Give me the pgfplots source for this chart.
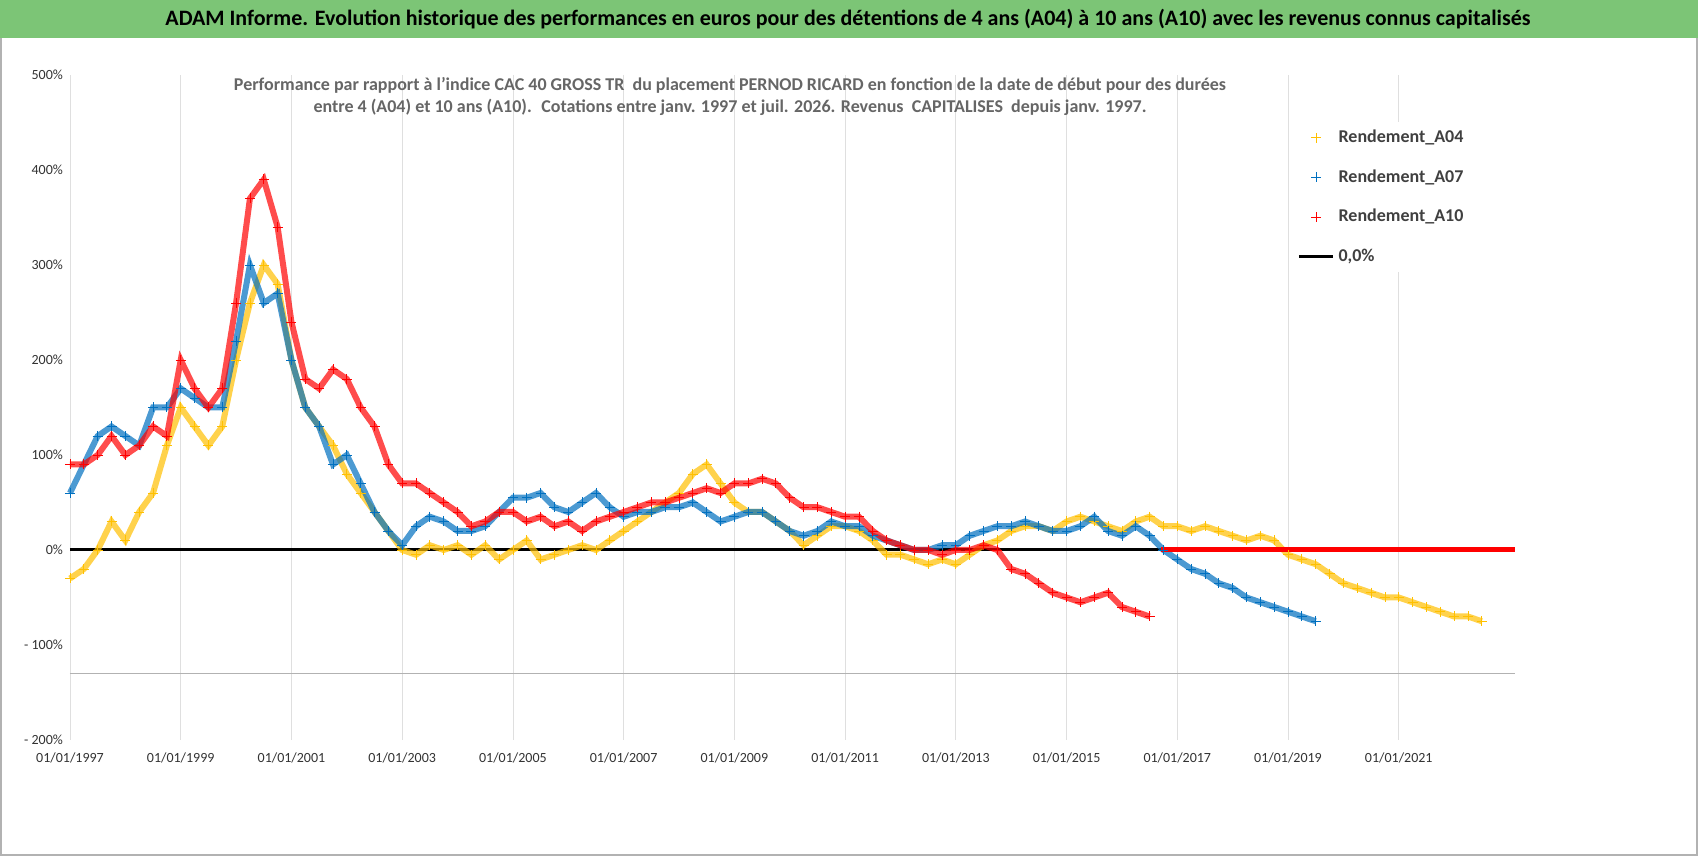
\documentclass[border=0pt]{standalone}
\usepackage{pgfplots}
\usepackage{pgfplotstable}
\pgfplotsset{compat=1.18}
\usepackage{fontspec}
\setmainfont{Carlito}
\definecolor{cy}{RGB}{255,192,0}
\definecolor{cb}{RGB}{0,112,192}
\definecolor{cr}{RGB}{255,0,0}
\definecolor{gbar}{RGB}{124,197,118}
\pgfplotstableread{
x y
1997.0 -30
1997.25 -20
1997.5 0
1997.75 30
1998.0 10
1998.25 40
1998.5 60
1998.75 110
1999.0 150
1999.25 130
1999.5 110
1999.75 130
2000.0 200
2000.25 260
2000.5 300
2000.75 280
2001.0 200
2001.25 150
2001.5 130
2001.75 110
2002.0 80
2002.25 60
2002.5 40
2002.75 20
2003.0 0
2003.25 -5
2003.5 5
2003.75 0
2004.0 5
2004.25 -5
2004.5 5
2004.75 -10
2005.0 0
2005.25 10
2005.5 -10
2005.75 -5
2006.0 0
2006.25 5
2006.5 0
2006.75 10
2007.0 20
2007.25 30
2007.5 40
2007.75 50
2008.0 60
2008.25 80
2008.5 90
2008.75 70
2009.0 50
2009.25 40
2009.5 40
2009.75 30
2010.0 20
2010.25 5
2010.5 15
2010.75 25
2011.0 25
2011.25 20
2011.5 10
2011.75 -5
2012.0 -5
2012.25 -10
2012.5 -15
2012.75 -10
2013.0 -15
2013.25 -5
2013.5 5
2013.75 10
2014.0 20
2014.25 25
2014.5 25
2014.75 20
2015.0 30
2015.25 35
2015.5 30
2015.75 25
2016.0 20
2016.25 30
2016.5 35
2016.75 25
2017.0 25
2017.25 20
2017.5 25
2017.75 20
2018.0 15
2018.25 10
2018.5 15
2018.75 10
2019.0 -5
2019.25 -10
2019.5 -15
2019.75 -25
2020.0 -35
2020.25 -40
2020.5 -45
2020.75 -50
2021.0 -50
2021.25 -55
2021.5 -60
2021.75 -65
2022.0 -70
2022.25 -70
2022.5 -75
}\Afour
\pgfplotstableread{
x y
1997.0 60
1997.25 90
1997.5 120
1997.75 130
1998.0 120
1998.25 110
1998.5 150
1998.75 150
1999.0 170
1999.25 160
1999.5 150
1999.75 150
2000.0 220
2000.25 300
2000.5 260
2000.75 270
2001.0 200
2001.25 150
2001.5 130
2001.75 90
2002.0 100
2002.25 70
2002.5 40
2002.75 20
2003.0 5
2003.25 25
2003.5 35
2003.75 30
2004.0 20
2004.25 20
2004.5 25
2004.75 40
2005.0 55
2005.25 55
2005.5 60
2005.75 45
2006.0 40
2006.25 50
2006.5 60
2006.75 45
2007.0 35
2007.25 40
2007.5 40
2007.75 45
2008.0 45
2008.25 50
2008.5 40
2008.75 30
2009.0 35
2009.25 40
2009.5 40
2009.75 30
2010.0 20
2010.25 15
2010.5 20
2010.75 30
2011.0 25
2011.25 25
2011.5 15
2011.75 10
2012.0 5
2012.25 0
2012.5 0
2012.75 5
2013.0 5
2013.25 15
2013.5 20
2013.75 25
2014.0 25
2014.25 30
2014.5 25
2014.75 20
2015.0 20
2015.25 25
2015.5 35
2015.75 20
2016.0 15
2016.25 25
2016.5 15
2016.75 0
2017.0 -10
2017.25 -20
2017.5 -25
2017.75 -35
2018.0 -40
2018.25 -50
2018.5 -55
2018.75 -60
2019.0 -65
2019.25 -70
2019.5 -75
}\Aseven
\pgfplotstableread{
x y
1997.0 90
1997.25 90
1997.5 100
1997.75 120
1998.0 100
1998.25 110
1998.5 130
1998.75 120
1999.0 200
1999.25 170
1999.5 150
1999.75 170
2000.0 260
2000.25 370
2000.5 390
2000.75 340
2001.0 240
2001.25 180
2001.5 170
2001.75 190
2002.0 180
2002.25 150
2002.5 130
2002.75 90
2003.0 70
2003.25 70
2003.5 60
2003.75 50
2004.0 40
2004.25 25
2004.5 30
2004.75 40
2005.0 40
2005.25 30
2005.5 35
2005.75 25
2006.0 30
2006.25 20
2006.5 30
2006.75 35
2007.0 40
2007.25 45
2007.5 50
2007.75 50
2008.0 55
2008.25 60
2008.5 65
2008.75 60
2009.0 70
2009.25 70
2009.5 75
2009.75 70
2010.0 55
2010.25 45
2010.5 45
2010.75 40
2011.0 35
2011.25 35
2011.5 20
2011.75 10
2012.0 5
2012.25 0
2012.5 0
2012.75 -5
2013.0 0
2013.25 0
2013.5 5
2013.75 0
2014.0 -20
2014.25 -25
2014.5 -35
2014.75 -45
2015.0 -50
2015.25 -55
2015.5 -50
2015.75 -45
2016.0 -60
2016.25 -65
2016.5 -70
}\Aten
\begin{document}
\begin{tikzpicture}[x=1pt,y=1pt]
\fill[white] (0,0) rectangle (849,428);
\draw[gray!60,line width=1pt] (0.5,0.5) rectangle (848.5,427.5);
\fill[gbar] (0,409) rectangle (849,428);
\node[font=\bfseries\fontsize{11}{12}\selectfont] at (424,418.5) {ADAM Informe. Evolution historique des performances en euros pour des détentions de 4 ans (A04) à 10 ans (A10) avec les revenus connus capitalisés};
\begin{axis}[at={(35pt,58pt)},anchor=south west,scale only axis,width=722.5pt,height=332.5pt,
 xmin=1997,xmax=2023.1,ymin=-200,ymax=500,
 axis line style={draw=none},
 xtick={1997,1999,2001,2003,2005,2007,2009,2011,2013,2015,2017,2019,2021},
 xticklabels={01/01/1997,01/01/1999,01/01/2001,01/01/2003,01/01/2005,01/01/2007,01/01/2009,01/01/2011,01/01/2013,01/01/2015,01/01/2017,01/01/2019,01/01/2021},
 xmajorgrids, grid style={gray!25},
 ytick={-200,-100,0,100,200,300,400,500},
 yticklabels={- 200\%,- 100\%,0\%,100\%,200\%,300\%,400\%,500\%},
 tick style={draw=none},
 ticklabel style={font=\fontsize{7}{8}\selectfont, text=black!80},
 xticklabel style={yshift=-3pt},
 legend style={at={(0.845,0.93)},anchor=north west,draw=none,fill=white,font=\bfseries\fontsize{9}{10}\selectfont,row sep=8pt,text=black!75},
 legend cell align=left,
 clip=false]
\addplot[gray!60,forget plot] coordinates {(1997,-130) (2023.1,-130)};
\addplot[black,line width=1.5pt,forget plot] coordinates {(1997,0) (2023.1,0)};
\addplot[cy,line width=3pt,opacity=0.7,forget plot] table {\Afour};
\addplot[cb,line width=3pt,opacity=0.7,forget plot] table {\Aseven};
\addplot[cr,line width=3pt,opacity=0.7,forget plot] table {\Aten};
\addplot[cy,only marks,mark=+,mark size=2.5pt] table {\Afour};
\addlegendentry{Rendement\_A04}
\addplot[cb,only marks,mark=+,mark size=2.5pt] table {\Aseven};
\addlegendentry{Rendement\_A07}
\addplot[cr,only marks,mark=+,mark size=2.5pt] table {\Aten};
\addlegendentry{Rendement\_A10}
\addplot[cr,line width=2.5pt,forget plot] coordinates {(2016.7,0)(2023.1,0)};
\addlegendimage{black,line width=1.5pt}
\addlegendentry{0,0\%}
\end{axis}
\node[font=\bfseries\fontsize{9}{11}\selectfont,text=black!60,align=center] at (365,380) {Performance par rapport à l'indice CAC 40 GROSS TR \ du placement PERNOD RICARD en fonction de la date de début pour des durées\\entre 4 (A04) et 10 ans (A10). \ Cotations entre janv. 1997 et juil. 2026. Revenus \ CAPITALISES \ depuis janv. 1997.};
\end{tikzpicture}
\end{document}
